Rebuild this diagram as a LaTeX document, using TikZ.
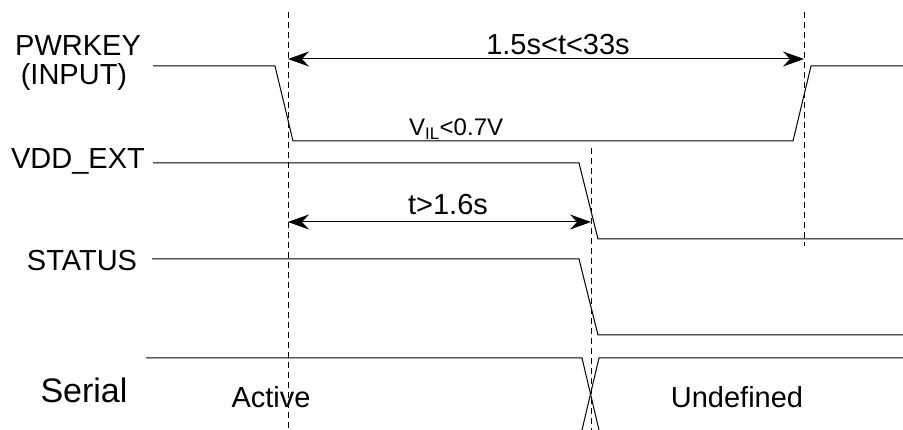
\documentclass[tikz,border=0pt]{standalone}
\usepackage{fontspec}
\setmainfont{Liberation Sans}
\usetikzlibrary{arrows.meta}

\begin{document}
\begin{tikzpicture}[x=1pt, y=-1pt,
	wave/.style={line width=1pt, line join=miter},
	marker/.style={line width=0.8pt, dash pattern=on 6pt off 4pt},
	span/.style={line width=1pt, {Stealth[length=21pt, width=15pt, inset=7pt]}-{Stealth[length=21pt, width=15pt, inset=7pt]}},
	sig/.style={font=\fontsize{29}{29}\selectfont, anchor=base, inner sep=0pt},
	note/.style={font=\fontsize{29}{29}\selectfont, anchor=base, inner sep=0pt}]
		%%%%% START %%%%%
		\useasboundingbox (0, 0) rectangle (903, 430);
		
		% signal names
		\node[sig] (pwrkey) at (78, 55.5) {PWRKEY};
		\node[sig] (input) at (74, 85) {(INPUT)};
		\node[sig] (vddext) at (78, 169) {VDD\_EXT};
		\node[sig] (status) at (82, 271) {STATUS};
		\node[sig, font=\fontsize{34}{34}\selectfont] (serial) at (84, 403) {Serial};
		
		% markers
		\draw[marker] (288, 12) -- (288, 430);
		\draw[marker] (591, 148) -- (591, 430);
		\draw[marker] (804, 12) -- (804, 246);
		
		% PWRKEY
		\draw[wave] (153, 66) -- (275, 66) -- (293, 141) -- (793, 141) -- (811, 66) -- (903, 66);
		\node[note, anchor=base west, font=\fontsize{24}{24}\selectfont] (vil) at (409, 136) {V\textsubscript{IL}<0.7V};
		
		% VDD_EXT
		\draw[wave] (153, 163) -- (579, 163) -- (598, 239) -- (903, 239);
		
		% STATUS
		\draw[wave] (152, 259) -- (579, 259) -- (598, 335) -- (903, 335);
		
		% Serial
		\draw[wave] (146, 358) -- (582, 358) -- (599, 430);
		\draw[wave] (903, 358) -- (599, 358) -- (582, 430);
		\node[note] (active) at (271, 408) {Active};
		\node[note] (undef) at (737, 408) {Undefined};
		
		% timings
		\coordinate (pressA) at (288, 59);
		\coordinate (pressB) at (804, 59);
		\draw[span] (pressA) -- (pressB);
		\node[note] (tpress) at (558, 55) {1.5s<t<33s};
		
		\coordinate (offA) at (288, 222);
		\coordinate (offB) at (591, 222);
		\draw[span] (offA) -- (offB);
		\node[note] (toff) at (448, 215) {t>1.6s};
		
		%%%%% END %%%%%
	\end{tikzpicture}
\end{document}
